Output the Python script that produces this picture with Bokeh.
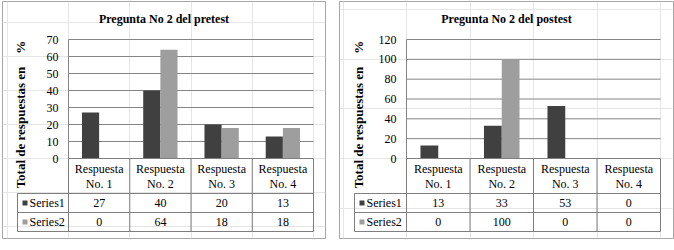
import math
from bokeh.plotting import figure
from bokeh.layouts import row
from bokeh.models import Range1d, FixedTicker, LinearAxis
from bokeh.core.properties import value
from bokeh.embed import file_html
from bokeh.resources import INLINE

# ---------------- data ----------------
cat_line1 = ["Respuesta", "Respuesta", "Respuesta", "Respuesta"]
cat_line2 = ["No. 1", "No. 2", "No. 3", "No. 4"]
series_names = ["Series1", "Series2"]
pre_series1 = [27, 40, 20, 13]
pre_series2 = [0, 64, 18, 18]
post_series1 = [13, 33, 53, 0]
post_series2 = [0, 100, 0, 0]
pre_ticks = [0, 10, 20, 30, 40, 50, 60, 70]
post_ticks = [0, 20, 40, 60, 80, 100, 120]
titles = ["Pregunta No 2 del pretest", "Pregunta No 2 del postest"]
y_label = "Total de respuestas en \u00a0\u00a0\u00a0%"

# ---------------- style ----------------
FONT = "Liberation Serif"
C1 = "#404040"
C2 = "#9e9e9e"
GRID = "#858585"
TABLE = "#7f7f7f"
BOX = "#a6a6a6"


def build(title, s1, s2, ticks, fw, fh, pl, pr, pt, pz, row_y, leg, mbl, mbr, ylx):
    n = len(cat_line1)
    cw = (pr - pl) / n
    vmax = ticks[-1]
    ppu = (pz - pt) / vmax
    p = figure(frame_width=fw, frame_height=fh, output_backend="svg",
               toolbar_location=None,
               x_range=Range1d(-pl / cw, (fw - pl) / cw),
               y_range=Range1d(-(fh - pz) / ppu, pz / ppu),
               x_axis_location=None, y_axis_location=None,
               min_border_left=mbl, min_border_right=mbr,
               min_border_top=1, min_border_bottom=250 - 1 - fh)
    p.extra_x_ranges = {"px": Range1d(0, fw)}
    p.extra_y_ranges = {"px": Range1d(fh, 0)}
    p.outline_line_color = BOX
    p.outline_line_width = 1
    p.background_fill_color = "white"
    p.border_fill_color = "white"

    # gridlines and value axis line (data coordinates)
    gy = ticks[1:]
    p.segment(x0=[0] * len(gy), y0=gy, x1=[n] * len(gy), y1=gy,
              line_color=GRID, line_width=1)
    p.segment(x0=[0], y0=[0], x1=[0], y1=[vmax], line_color=GRID, line_width=1)

    # bars
    xs = [i + 0.5 for i in range(n)]
    bw = 0.28
    p.vbar(x=[x - bw / 2 for x in xs], top=s1, width=bw, fill_color=C1, line_color=None)
    p.vbar(x=[x + bw / 2 for x in xs], top=s2, width=bw, fill_color=C2, line_color=None)

    ax = LinearAxis(ticker=FixedTicker(ticks=ticks), fixed_location=0,
                    axis_line_color=None, major_tick_line_color=None,
                    minor_tick_line_color=None, major_tick_in=0, major_tick_out=0,
                    major_label_standoff=10, major_label_text_font=FONT,
                    major_label_text_font_size="12px", major_label_text_color="black")
    p.add_layout(ax, "left")

    # data table (frame pixel coordinates)
    r1, r2, r3 = row_y
    kw = dict(x_range_name="px", y_range_name="px", line_color=TABLE, line_width=1)
    cols = [pl + i * cw for i in range(n + 1)]
    hx0 = [pl, leg, leg, leg]
    hy = [pz, r1, r2, r3]
    p.segment(x0=hx0, y0=hy, x1=[pr] * 4, y1=hy, **kw)
    p.segment(x0=cols + [leg], y0=[pz] * len(cols) + [r1],
              x1=cols + [leg], y1=[r3] * (len(cols) + 1), **kw)

    tkw = dict(x_range_name="px", y_range_name="px", text_font=value(FONT),
               text_font_size="12px", text_color="black",
               text_align="center", text_baseline="middle")
    cx = [pl + (i + 0.5) * cw for i in range(n)]
    p.text(x=cx, y=[pz + 10] * n, text=cat_line1, **tkw)
    p.text(x=cx, y=[pz + 25] * n, text=cat_line2, **tkw)
    c1y = (r1 + r2) / 2
    c2y = (r2 + r3) / 2
    p.text(x=cx, y=[c1y] * n, text=[str(v) for v in s1], **tkw)
    p.text(x=cx, y=[c2y] * n, text=[str(v) for v in s2], **tkw)

    # legend keys
    p.rect(x=[leg + 7.5, leg + 7.5], y=[c1y, c2y], width=5, height=5,
           fill_color=[C1, C2], line_color=None, x_range_name="px", y_range_name="px")
    lkw = dict(tkw)
    lkw["text_align"] = "left"
    p.text(x=[leg + 12, leg + 12], y=[c1y, c2y], text=series_names, **lkw)

    # title and value-axis label
    bkw = dict(tkw)
    bkw["text_font_style"] = "bold"
    p.text(x=[fw / 2], y=[17], text=[title], **bkw)
    lab = dict(bkw)
    lab["text_font_size"] = "13px"
    p.text(x=[ylx], y=[113], text=[y_label], angle=math.pi / 2, **lab)
    return p


p1 = build(titles[0], pre_series1, pre_series2, pre_ticks,
           fw=323, fh=237, pl=66, pr=311, pt=38, pz=157,
           row_y=(192, 211, 230), leg=15, mbl=2, mbr=7, ylx=18)
p2 = build(titles[1], post_series1, post_series2, post_ticks,
           fw=334, fh=237, pl=67, pr=321, pt=38, pz=157,
           row_y=(192, 211, 230), leg=15, mbl=7, mbr=1, ylx=19)

layout = row(p1, p2)
open("out.html", "w").write(file_html(layout, INLINE))
